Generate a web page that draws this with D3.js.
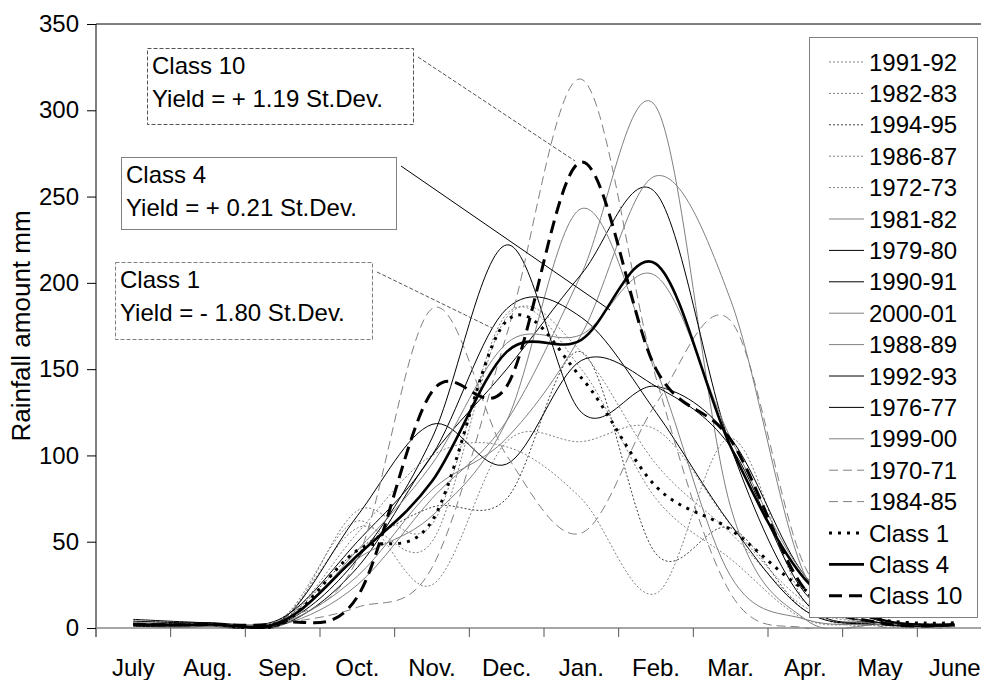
<!DOCTYPE html>
<meta charset="utf-8">
<script src="https://d3js.org/d3.v7.min.js"></script>
<style>
  body { margin: 0; background: #fff; }
  text { font-family: "Liberation Sans", Arial, sans-serif; }
</style>
<div id="my_dataviz"></div>
<script>
// months on the x axis
var months = ["July", "Aug.", "Sep.", "Oct.", "Nov.", "Dec.", "Jan.", "Feb.", "Mar.", "Apr.", "May", "June"];
var yTicks = [0, 50, 100, 150, 200, 250, 300, 350];

// monthly rainfall (mm)
var y1991_92 = [3, 2, 4, 55, 100, 105, 75, 20, 110, 15, 1, 2];
var y1982_83 = [2, 2, 6, 62, 25, 108, 108, 115, 60, 15, 2, 1];
var y1994_95 = [3, 2, 5, 45, 70, 75, 160, 43, 58, 10, 2, 2];
var y1986_87 = [2, 1, 6, 58, 50, 180, 160, 95, 55, 12, 3, 2];
var y1972_73 = [4, 3, 3, 68, 60, 182, 150, 75, 40, 5, 3, 2];
var y1981_82 = [2, 1, 2, 25, 75, 120, 205, 302, 70, 5, 2, 1];
var y1979_80 = [5, 3, 2, 35, 100, 150, 205, 252, 105, 15, 3, 1];
var y1990_91 = [2, 2, 3, 40, 110, 222, 125, 140, 110, 30, 4, 2];
var y2000_01 = [3, 2, 3, 30, 80, 110, 170, 262, 190, 30, 3, 2];
var y1988_89 = [3, 2, 4, 40, 65, 120, 243, 150, 30, 5, 2, 1];
var y1992_93 = [1, 1, 5, 65, 118, 95, 155, 140, 105, 20, 3, 1];
var y1976_77 = [4, 3, 6, 50, 100, 185, 180, 125, 60, 10, 2, 1];
var y1999_00 = [2, 1, 2, 45, 95, 165, 170, 204, 110, 30, 5, 2];
var y1970_71 = [2, 1, 3, 12, 35, 170, 318, 145, 20, 0, 2, 1];
var y1984_85 = [3, 2, 5, 40, 185, 100, 55, 130, 178, 35, 1, 1];
var class1 = [2, 2, 3, 45, 62, 178, 145, 82, 57, 22, 5, 3];
var class4 = [2, 2, 4, 42, 85, 160, 167, 211, 105, 28, 5, 2];
var class10 = [2, 2, 3, 18, 137, 140, 270, 150, 109, 22, 3, 2];

// line styles per series
var dotG = {color: "#808080", width: 1, dash: "2,2"};
var dotK = {color: "#404040", width: 1, dash: "2,2"};
var solG = {color: "#808080", width: 1, dash: null};
var solK = {color: "#000", width: 1, dash: null};
var lngG = {color: "#808080", width: 1, dash: "9,5"};

var series = [
  {name: "1991-92", values: y1991_92, style: dotG},
  {name: "1982-83", values: y1982_83, style: dotG},
  {name: "1994-95", values: y1994_95, style: dotK},
  {name: "1986-87", values: y1986_87, style: dotG},
  {name: "1972-73", values: y1972_73, style: dotG},
  {name: "1981-82", values: y1981_82, style: solG},
  {name: "1979-80", values: y1979_80, style: solK},
  {name: "1990-91", values: y1990_91, style: solK},
  {name: "2000-01", values: y2000_01, style: solG},
  {name: "1988-89", values: y1988_89, style: solG},
  {name: "1992-93", values: y1992_93, style: solK},
  {name: "1976-77", values: y1976_77, style: solK},
  {name: "1999-00", values: y1999_00, style: solG},
  {name: "1970-71", values: y1970_71, style: lngG},
  {name: "1984-85", values: y1984_85, style: lngG},
  {name: "Class 1", values: class1, style: {color: "#000", width: 3, dash: "3,6"}},
  {name: "Class 4", values: class4, style: {color: "#000", width: 2.6, dash: null}},
  {name: "Class 10", values: class10, style: {color: "#000", width: 3, dash: "13,7"}}
];

var W = 981, H = 680;
var pL = 96, pT = 24, pB = 628, pR = 992;

var svg = d3.select("#my_dataviz")
  .append("svg")
    .attr("width", W)
    .attr("height", H);

var x = d3.scaleBand()
  .domain(months)
  .range([pL, pR]);

var y = d3.scaleLinear()
  .domain([0, 350])
  .range([pB, pT]);

svg.append("clipPath").attr("id", "plot")
  .append("rect").attr("x", pL).attr("y", pT).attr("width", pR - pL).attr("height", pB - pT + 1);

// top border of the plot area
svg.append("line")
  .attr("x1", pL).attr("x2", W).attr("y1", pT).attr("y2", pT)
  .attr("stroke", "#000");

// y axis
var yAxis = svg.append("g")
  .attr("transform", "translate(" + pL + ",0)")
  .call(d3.axisLeft(y).tickValues(yTicks).tickSize(9).tickPadding(8));
yAxis.select(".domain").remove();
yAxis.selectAll("line").attr("stroke", "#000");
yAxis.selectAll("text").style("font-size", "24px").attr("fill", "#000")
  .attr("font-family", "Liberation Sans, Arial, sans-serif");
svg.append("line")
  .attr("x1", pL).attr("x2", pL).attr("y1", pT).attr("y2", pB + 9)
  .attr("stroke", "#000");

// x axis (gray line, ticks at month boundaries)
svg.append("line")
  .attr("x1", pL).attr("x2", W).attr("y1", pB).attr("y2", pB)
  .attr("stroke", "#888").attr("stroke-width", 1.5);
svg.append("g").selectAll("line")
  .data(months.slice(1))
  .enter().append("line")
    .attr("x1", function(d) { return x(d); })
    .attr("x2", function(d) { return x(d); })
    .attr("y1", pB).attr("y2", pB + 9)
    .attr("stroke", "#555");
var xAxis = svg.append("g")
  .attr("transform", "translate(0," + pB + ")")
  .call(d3.axisBottom(x).tickSize(0).tickPadding(31));
xAxis.select(".domain").remove();
xAxis.selectAll("text").style("font-size", "24px").attr("fill", "#000")
  .attr("font-family", "Liberation Sans, Arial, sans-serif");

// y axis title
svg.append("text")
  .attr("text-anchor", "middle")
  .attr("transform", "translate(30,326) rotate(-90)")
  .style("font-size", "26px")
  .text("Rainfall amount mm");

// lines
var line = d3.line()
  .x(function(d, i) { return x(months[i]) + x.bandwidth() / 2; })
  .y(function(d) { return y(d); })
  .curve(d3.curveCardinal.tension(0));

svg.append("g")
  .attr("clip-path", "url(#plot)")
  .selectAll("path")
  .data(series)
  .enter().append("path")
    .attr("d", function(d) { return line(d.values); })
    .attr("fill", "none")
    .attr("stroke", function(d) { return d.style.color; })
    .attr("stroke-width", function(d) { return d.style.width; })
    .attr("stroke-dasharray", function(d) { return d.style.dash; });

// annotation boxes with leader lines
var notes = [
  {t1: "Class 10", t2: "Yield = + 1.19 St.Dev.", x: 147, y: 48, w: 266, h: 76, dash: "4,2", color: "#555", tx: 152, lx1: 418, ly1: 57, lx2: 575, ly2: 161},
  {t1: "Class 4", t2: "Yield = + 0.21 St.Dev.", x: 121, y: 157, w: 275, h: 72, dash: null, color: "#808080", tx: 126, lx1: 401, ly1: 166, lx2: 610, ly2: 310},
  {t1: "Class 1", t2: "Yield = - 1.80 St.Dev.", x: 115, y: 262, w: 257, h: 77, dash: "4,2", color: "#808080", tx: 120, lx1: 377, ly1: 272, lx2: 492, ly2: 328}
];
notes.forEach(function(n) {
  svg.append("line")
    .attr("x1", n.lx1).attr("y1", n.ly1).attr("x2", n.lx2).attr("y2", n.ly2)
    .attr("stroke", n.dash ? "#555" : "#000")
    .attr("stroke-dasharray", n.dash);
  svg.append("rect")
    .attr("x", n.x + 0.5).attr("y", n.y + 0.5).attr("width", n.w).attr("height", n.h)
    .attr("fill", "#fff").attr("stroke", n.color)
    .attr("stroke-dasharray", n.dash);
  svg.append("text").attr("x", n.tx).attr("y", n.y + 26).style("font-size", "24px").text(n.t1);
  svg.append("text").attr("x", n.tx).attr("y", n.y + 59).style("font-size", "24px").text(n.t2);
});

// legend
var legend = svg.append("g");
legend.append("rect")
  .attr("x", 809.5).attr("y", 37.5).attr("width", 168).attr("height", 580)
  .attr("fill", "#fff").attr("stroke", "#808080");
var item = legend.selectAll("g.item")
  .data(series)
  .enter().append("g")
    .attr("transform", function(d, i) { return "translate(0," + (62 + i * 31.4) + ")"; });
item.append("line")
  .attr("x1", 829).attr("x2", 864).attr("y1", 0).attr("y2", 0)
  .attr("stroke", function(d) { return d.style.color; })
  .attr("stroke-width", function(d) { return d.style.width; })
  .attr("stroke-dasharray", function(d) { return d.style.dash; });
item.append("text")
  .attr("x", 869).attr("y", 8.5)
  .style("font-size", "24px")
  .text(function(d) { return d.name; });
</script>
